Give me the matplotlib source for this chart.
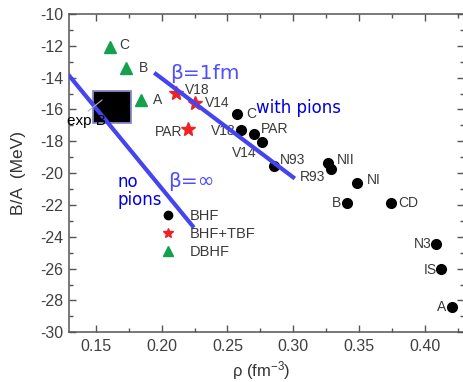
import matplotlib
matplotlib.use("Agg")
import matplotlib.pyplot as plt
from matplotlib.patches import Rectangle
from matplotlib.lines import Line2D
from matplotlib.ticker import MultipleLocator

plt.rcParams["font.family"] = ["Liberation Sans", "DejaVu Sans"]
plt.rcParams["mathtext.fontset"] = "custom"
plt.rcParams["mathtext.rm"] = "Liberation Sans"
plt.rcParams["mathtext.it"] = "Liberation Sans:italic"

# BHF results (black circles)
bhf_names = ["C", "V18", "PAR", "V14", "N93", "NII", "R93", "NI", "B", "CD", "N3", "IS", "A"]
bhf_rho = [0.257, 0.260, 0.270, 0.276, 0.285, 0.3265, 0.3286, 0.3486, 0.3405, 0.3739, 0.4084, 0.4119, 0.4203]
bhf_ea = [-16.3, -17.29, -17.54, -18.06, -19.55, -19.34, -19.76, -20.60, -21.89, -21.89, -24.45, -26.02, -28.44]

# BHF + three-body forces (red stars)
tbf_names = ["V18", "V14", "PAR"]
tbf_rho = [0.2108, 0.2252, 0.2201]
tbf_ea = [-14.98, -15.57, -17.24]

# DBHF (green triangles)
dbhf_names = ["C", "B", "A"]
dbhf_rho = [0.1611, 0.1733, 0.1842]
dbhf_ea = [-12.05, -13.41, -15.40]

# Coester-band guide lines
beta_inf_rho = [0.13, 0.2235]
beta_inf_ea = [-13.9, -23.32]
beta_1fm_rho = [0.1956, 0.2999]
beta_1fm_ea = [-13.77, -20.26]

# empirical saturation box: rho range, E/A range
exp_rho = [0.148, 0.177]
exp_ea = [-16.83, -14.82]

# label offsets in points (dx, dy, ha)
bhf_off = [(6.8, 0, "left"), (-3.6, -0.7, "right"), (5.3, 3.4, "left"), (-3.6, -7.9, "right"),
           (4.8, 4.3, "left"), (6.5, 1.9, "left"), (-4.3, -5.3, "right"), (6.8, 1.9, "left"),
           (-3.6, 0.4, "right"), (5.5, 0.4, "left"), (-3.1, 0, "right"), (-2.9, -1, "right"),
           (-3.6, 0, "right")]
tbf_off = [(6.5, 2.4, "left"), (7.2, 0, "left"), (-4.3, -1.7, "right")]
dbhf_off = [(6.7, 1.2, "left"), (8.9, 0, "left"), (8.4, 0, "left")]

grey = "#3a3a3a"
red = "#ee2222"
green = "#14a04c"
blue = "#4444f0"

fig = plt.figure(figsize=(4.63, 3.82), dpi=100)
ax = fig.add_axes([0.1501, 0.1301, 0.853, 0.8333])

ax.add_patch(Rectangle((exp_rho[0], exp_ea[0]), exp_rho[1] - exp_rho[0], exp_ea[1] - exp_ea[0],
                       facecolor="black", edgecolor="#8888cc", lw=1.3, zorder=2))
ax.annotate("exp B", xy=(0.1548, -15.40), xytext=(0.1282, -16.97), fontsize=11, color="black",
            ha="left", va="baseline", zorder=5,
            arrowprops=dict(arrowstyle="-", color="#b0b0b0", lw=0.8, relpos=(0.45, 1.0),
                            shrinkA=0, shrinkB=0))

ax.plot(beta_inf_rho, beta_inf_ea, color=blue, lw=3, zorder=4)
ax.plot(beta_1fm_rho, beta_1fm_ea, color=blue, lw=3, zorder=4)

ax.plot(bhf_rho, bhf_ea, "o", color="black", ms=7, ls="none", zorder=3)
ax.plot(tbf_rho, tbf_ea, "*", color=red, ms=10, ls="none", zorder=3)
ax.plot(dbhf_rho, dbhf_ea, "^", color=green, ms=9, ls="none", zorder=3)

for names, xs, ys, offs in [(bhf_names, bhf_rho, bhf_ea, bhf_off),
                            (tbf_names, tbf_rho, tbf_ea, tbf_off),
                            (dbhf_names, dbhf_rho, dbhf_ea, dbhf_off)]:
    for n, x, y, (dx, dy, ha) in zip(names, xs, ys, offs):
        ax.annotate(n, (x, y), xytext=(dx, dy), textcoords="offset points",
                    ha=ha, va="center", fontsize=10, color=grey)

ax.text(0.2062, -14.10, "β=1fm", color="#5050ff", fontsize=14.5, family="DejaVu Sans", va="baseline")
ax.text(0.2049, -20.85, "β=∞", color="#5050ff", fontsize=14.5, family="DejaVu Sans", va="baseline")
ax.text(0.2716, -16.2, "with pions", color="#0000e0", fontsize=12, family="DejaVu Sans", va="baseline")
ax.text(0.1667, -20.85, "no", color="#0000e0", fontsize=12, family="DejaVu Sans", va="baseline")
ax.text(0.1667, -22.0, "pions", color="#0000e0", fontsize=12, family="DejaVu Sans", va="baseline")

handles = [Line2D([], [], marker="o", color="black", ls="none", ms=6),
           Line2D([], [], marker="*", color=red, ls="none", ms=7.5),
           Line2D([], [], marker="^", color=green, ls="none", ms=7)]
ax.legend(handles, ["BHF", "BHF+TBF", "DBHF"], loc="upper left", bbox_to_anchor=(0.2317, 0.387),
          frameon=False, fontsize=10.5, handlelength=1.0, handletextpad=1.0,
          labelspacing=0.26, borderpad=0, borderaxespad=0, labelcolor=grey)

ax.set_xlim(0.13, 0.43)
ax.set_ylim(-30, -10)
ax.xaxis.set_major_locator(MultipleLocator(0.05))
ax.xaxis.set_minor_locator(MultipleLocator(0.025))
ax.yaxis.set_major_locator(MultipleLocator(2))
ax.yaxis.set_minor_locator(MultipleLocator(1))
ax.xaxis.set_major_formatter(lambda v, p: f"{v:.2f}")
ax.yaxis.set_major_formatter(lambda v, p: f"{v:.0f}".replace("\u2212", "-"))

for s in ax.spines.values():
    s.set_color("#555555")
    s.set_linewidth(1.1)
ax.tick_params(which="both", direction="in", top=True, right=True, colors="#555555",
               labelcolor="#404040", labelsize=11.5)
ax.tick_params(which="major", length=5, width=1)
ax.tick_params(which="minor", length=3, width=1)
ax.tick_params(axis="y", pad=4.5)
ax.tick_params(axis="x", pad=5)

ax.set_xlabel("ρ (fm$^{-3}$)", fontsize=12, color="#333333")
ax.set_ylabel("B/A  (MeV)", fontsize=12.5, color="#333333")
ax.xaxis.set_label_coords(0.485, -0.085)
ax.yaxis.set_label_coords(-0.11, 0.5)

fig.savefig("out.png", dpi=100)
